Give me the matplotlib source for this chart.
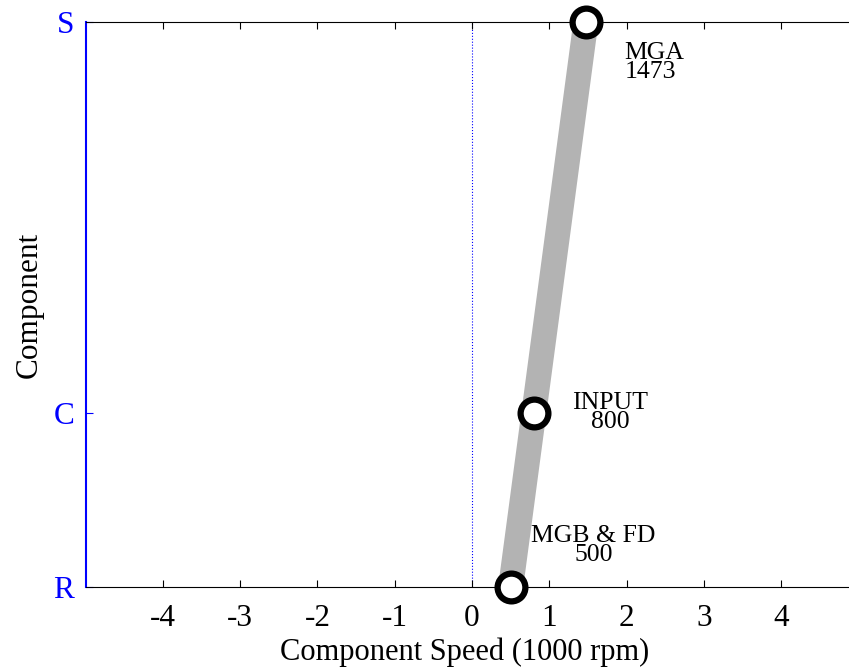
import matplotlib.pyplot as plt

plt.rcParams['font.family'] = ['Liberation Serif', 'DejaVu Serif']

# lever diagram: component positions along the lever and their speeds (rpm)
components = ["R", "C", "S"]
lever_pos = [0.0, 0.308, 1.0]
speeds = [500, 800, 1473]
names = ["MGB & FD", "INPUT", "MGA"]
xticks = [-4, -3, -2, -1, 0, 1, 2, 3, 4]

fig = plt.figure(figsize=(8.49, 6.71), dpi=100)
# the axes run a little past the right edge of the figure
ax = fig.add_axes([85.5 / 849, 1 - 587 / 671, 773 / 849, 565 / 671])

x = [s / 1000 for s in speeds]
ax.plot(x, lever_pos, color=(0.7, 0.7, 0.7), lw=18, solid_capstyle='butt', zorder=2)
ax.plot(x, lever_pos, ls='none', marker='o', ms=20, mfc='white', mec='black',
        mew=4.5, clip_on=False, zorder=3)
ax.axvline(0, color='blue', lw=0.8, ls=':', zorder=1)

# speed labels beside each node: (dx, dy, alignment)
label_place = [(1.07, 0.073, 'center'), (0.985, 0.001, 'center'), (0.5, -0.072, 'left')]
for xi, yi, name, spd, (dx, dy, ha) in zip(x, lever_pos, names, speeds, label_place):
    ax.text(xi + dx, yi + dy, f"{name}\n{spd}", ha=ha, va='center', multialignment=ha,
            fontsize=18.5, linespacing=0.82)

ax.set_xlim(-5, 5)
ax.set_ylim(0, 1)
ax.set_xticks(xticks)
ax.set_xticklabels([str(t) for t in xticks])
ax.set_yticks(lever_pos)
ax.set_yticklabels(components, color='blue')
ax.tick_params(axis='x', direction='in', top=True, labelsize=22.5, pad=12, length=5)
ax.tick_params(axis='y', direction='in', colors='blue', labelsize=22.5, pad=8, length=5)
ax.spines['left'].set_color('blue')
ax.spines['left'].set_linewidth(1.5)
ax.set_xlabel("Component Speed (1000 rpm)", fontsize=22)
ax.xaxis.set_label_coords(0.491, -0.09)
ax.set_ylabel("Component", fontsize=22.5, labelpad=7)

fig.savefig("out.png", dpi=100)
